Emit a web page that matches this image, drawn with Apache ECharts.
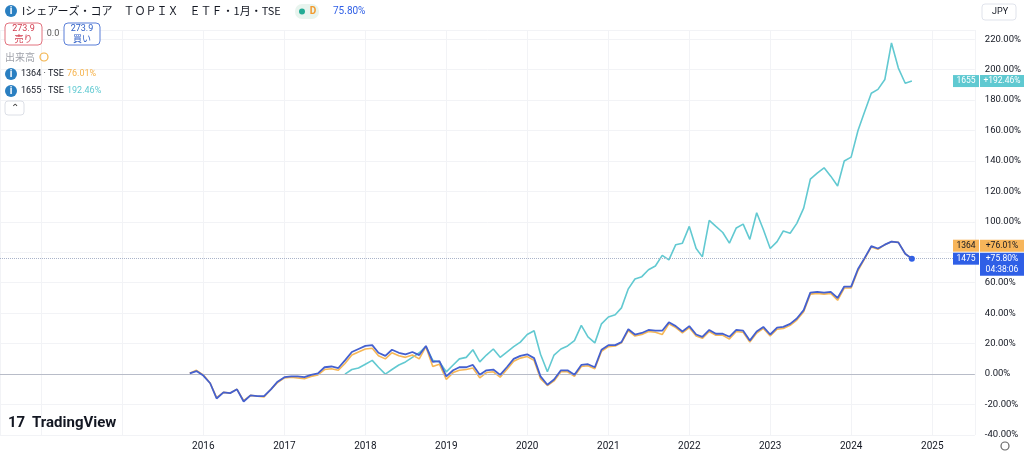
<!DOCTYPE html>
<html><head><meta charset="utf-8">
<script src="https://cdn.jsdelivr.net/npm/echarts@6/dist/echarts.min.js"></script>
<style>html,body{margin:0;padding:0;background:#fff}#c{width:1024px;height:451px}</style>
</head><body><div id="c"></div>
<script>
const startMonth = [2015, 11];
const s1475 = [0.5,2,
 -1,-6,-16,-12,-12.5,-10,-18,-14,-14.5,-14.5,-10,-5,
 -2,-1.5,-1.5,-2,-0.5,0.5,4.5,5,4,9,14.5,16.5,
 18.5,19,14,12,16,14,13,14.5,12.5,18.5,8,8.5,
 -1.5,2.5,4.5,4.5,6,-0.5,2.5,3,-0.5,4.5,10,12,
 13,10.5,-1.5,-7,-3.5,2.5,2.5,-0.5,6,6.5,4.5,16,
 19,19,21,29.5,26,27,29,28.5,28.5,34,31.5,28,
 31.5,26,24.5,29,26.5,26.5,24.5,29,28.5,22,28,31,
 26,30.5,31,33,36.5,42,53.5,54,53.5,54,50,57.5,
 57.5,69,76,84,82.5,85,87,86.5,79,75.8];
const s1364 = [0.5,2.5,
 -0.5,-6,-15.5,-12,-12.5,-10,-17.5,-14,-14.5,-15,-10,-5.5,
 -2.5,-2,-2.5,-3,-1.5,-0.5,3,3.5,2.5,7,12.5,14.5,
 16.5,17,12,10,14,12,11,12.5,10,18,5,6.5,
 -3.5,1,2.5,3,4,-2.5,1,1.5,-2,3,8.5,10.5,
 11.5,9,-3,-7.5,-4.5,1.5,1.5,-1.5,5,5.5,3.5,15,
 18,18.5,20.5,28.5,25,26,28,27.5,26,33,30.5,27,
 30.5,25,23.5,28,25.5,25.5,23,28,27.5,21,27,30,
 25,29.5,30,32,35.5,41,52.5,53,52.5,53,48.5,56.5,
 56.5,68,75.5,83.5,82,85,87,86.5,79,76.01];
const s1655 = [null,null,
 null,null,null,null,null,null,null,null,null,null,null,null,
 null,null,null,null,null,null,null,null,null,0,3,4,
 6.5,9,4.5,0,3,6,8,11,14,18,9,8,
 1.5,6,10,11,16,8,12.5,16.5,11,14.5,18,21,
 26,28.5,13,1.5,12.5,16.5,18.5,22,32,24.5,20.5,33,
 37.5,39,43.5,56,62.5,64,68.5,71,78,75,85,86,
 97,82.5,77,101,97,93,86,96,98.5,88.5,106,95,
 82.5,87,94,92.5,99,109,128,132,135.5,130,123.5,140,
 142.5,160,172,184.5,187,193.5,217.5,201,191,192.5];

function toSeries(arr){
  return arr.map((v,i)=>{
    const m = startMonth[1]-1+i;
    const y = startMonth[0]+Math.floor(m/12);
    const mm = (m%12)+1;
    return [y+'-'+String(mm).padStart(2,'0')+'-01', v];
  });
}
const chart = echarts.init(document.getElementById('c'));
const F = 'Roboto, "Noto Sans CJK JP", sans-serif';
chart.setOption({
  animation:false,
  grid:{left:0,right:49,top:30,bottom:16},
  xAxis:{type:'time',min:'2013-06-28',max:'2025-07-12',
    splitNumber:12,
    axisLine:{show:false},axisTick:{show:false},
    splitLine:{show:true,lineStyle:{color:'#f2f3f6'}},
    axisLabel:{formatter:v=>{const y=new Date(v).getFullYear();return y<2016?'':String(y);},color:'#131722',fontSize:10,fontFamily:F,margin:6,hideOverlap:false}},
  yAxis:{type:'value',position:'right',min:-40,max:226,interval:20,
    axisLine:{show:false},axisTick:{show:false},
    splitLine:{lineStyle:{color:'#f2f3f6'}},
    axisLabel:{showMaxLabel:false,formatter:v=>v.toFixed(2)+'%',color:'#131722',fontSize:9.5,fontFamily:F,margin:10}},
  series:[
    {type:'line',data:toSeries(s1655),symbol:'none',lineStyle:{color:'#62c9d1',width:1.6},z:3,
     markLine:{silent:true,symbol:'none',label:{show:false},lineStyle:{color:'#b8bcc8',type:'solid',width:1},data:[{yAxis:0}]}},
    {type:'line',data:toSeries(s1364),symbol:'none',lineStyle:{color:'#f6b756',width:1.6},z:4},
    {type:'line',data:toSeries(s1475),symbol:'none',lineStyle:{color:'#4460cf',width:1.8},z:5,
     markLine:{silent:true,symbol:'none',label:{show:false},lineStyle:{color:'#a9b3c9',type:'dotted',width:1},data:[{yAxis:75.8}]},
     markPoint:{symbol:'circle',symbolSize:6,itemStyle:{color:'#2f5fe6'},label:{show:false},data:[{coord:toSeries(s1475)[s1475.length-1]}]}}
  ]
});
const yc = chart.convertToPixel({yAxisIndex:0},192.46);
const yb = chart.convertToPixel({yAxisIndex:0},75.8);
function tag(y,c,name,val,h,tc){
  return [
    {type:'rect',z:100,shape:{x:953,y:y-6,width:26,height:12},style:{fill:c}},
    {type:'rect',z:100,shape:{x:980,y:y-6,width:44,height:h||12},style:{fill:c}},
    {type:'text',z:101,x:966,y:y,style:{text:name,fill:tc,font:'8.5px '+F,align:'center',verticalAlign:'middle'}},
    {type:'text',z:101,x:1002,y:y,style:{text:val,fill:tc,font:'8.5px '+F,align:'center',verticalAlign:'middle'}}
  ];
}
const info=(x,y)=>[{type:'circle',shape:{cx:x,cy:y,r:6},style:{fill:'#2a7fc1'}},
  {type:'text',x:x,y:y,style:{text:'i',fill:'#fff',font:'bold 10px '+F,align:'center',verticalAlign:'middle'}}];
chart.setOption({graphic:[
  {type:'rect',z:99,shape:{x:976,y:yb-20,width:48,height:38},style:{fill:'#fff'}},
  ...tag(yc,'#5fc9d1','1655','+192.46%',12,'#fff'),
  ...tag(yb-13,'#f7b55a','1364','+76.01%',12,'#131722'),
  ...tag(yb,'#2f5fe6','1475','+75.80%',23,'#fff'),
  {type:'text',z:101,x:1002,y:yb+11,style:{text:'04:38:06',fill:'#fff',font:'8.5px '+F,align:'center',verticalAlign:'middle'}},
  ...info(11,11),
  {type:'text',x:22,y:11,style:{text:'Iシェアーズ・コア　ＴＯＰＩＸ　ＥＴＦ・1月・TSE',fill:'#131722',font:'11px "Noto Sans CJK JP"',verticalAlign:'middle'}},
  {type:'rect',shape:{x:295,y:4,width:24,height:15,r:7},style:{fill:'#e8f4ee'}},
  {type:'circle',shape:{cx:302,cy:11.5,r:3},style:{fill:'#22ab94'}},
  {type:'text',x:313,y:11.5,style:{text:'D',fill:'#f29a2e',font:'bold 10px '+F,align:'center',verticalAlign:'middle'}},
  {type:'text',x:333,y:11.5,style:{text:'75.80%',fill:'#2f5fe6',font:'10px '+F,verticalAlign:'middle'}},
  {type:'rect',shape:{x:5,y:23,width:37,height:22,r:4},style:{fill:'#fff',stroke:'#e2737f'}},
  {type:'text',x:23.5,y:29,style:{text:'273.9',fill:'#d23d4f',font:'9px '+F,align:'center',verticalAlign:'middle'}},
  {type:'text',x:23.5,y:39,style:{text:'売り',fill:'#d23d4f',font:'9px "Noto Sans CJK JP"',align:'center',verticalAlign:'middle'}},
  {type:'text',x:53,y:34,style:{text:'0.0',fill:'#555',font:'9px '+F,align:'center',verticalAlign:'middle'}},
  {type:'rect',shape:{x:64,y:23,width:36,height:22,r:4},style:{fill:'#fff',stroke:'#5b7fd8'}},
  {type:'text',x:82,y:29,style:{text:'273.9',fill:'#2f5fc6',font:'9px '+F,align:'center',verticalAlign:'middle'}},
  {type:'text',x:82,y:39,style:{text:'買い',fill:'#2f5fc6',font:'9px "Noto Sans CJK JP"',align:'center',verticalAlign:'middle'}},
  {type:'text',x:5,y:57,style:{text:'出来高',fill:'#a0a3ab',font:'10px "Noto Sans CJK JP"',verticalAlign:'middle'}},
  {type:'circle',shape:{cx:44,cy:57,r:4},style:{fill:'none',stroke:'#f2b24a',lineWidth:1.2}},
  ...info(11,74),
  {type:'text',x:21,y:74,style:{text:'1364 · TSE',fill:'#131722',font:'9px '+F,verticalAlign:'middle'}},
  {type:'text',x:67,y:74,style:{text:'76.01%',fill:'#f6b24a',font:'9px '+F,verticalAlign:'middle'}},
  ...info(11,91),
  {type:'text',x:21,y:91,style:{text:'1655 · TSE',fill:'#131722',font:'9px '+F,verticalAlign:'middle'}},
  {type:'text',x:67,y:91,style:{text:'192.46%',fill:'#5fc9d1',font:'9px '+F,verticalAlign:'middle'}},
  {type:'rect',shape:{x:5,y:101,width:19,height:14,r:3},style:{fill:'#fff',stroke:'#dcdfe6'}},
  {type:'text',x:14.5,y:108,style:{text:'⌃',fill:'#333',font:'10px '+F,align:'center',verticalAlign:'middle'}},
  {type:'rect',shape:{x:982,y:4,width:34,height:16,r:3},style:{fill:'#fff',stroke:'#e0e3eb'}},
  {type:'text',x:992,y:12,style:{text:'JPY',fill:'#131722',font:'9px '+F,verticalAlign:'middle'}},
  {type:'text',x:8,y:423,style:{text:'17',fill:'#131722',font:'bold 15px '+F,verticalAlign:'middle'}},
  {type:'text',x:32,y:423,style:{text:'TradingView',fill:'#131722',font:'bold 15px '+F,verticalAlign:'middle'}},
  {type:'circle',shape:{cx:1005,cy:446,r:4},style:{fill:'none',stroke:'#666',lineWidth:1.2}}
]});
</script></body></html>
